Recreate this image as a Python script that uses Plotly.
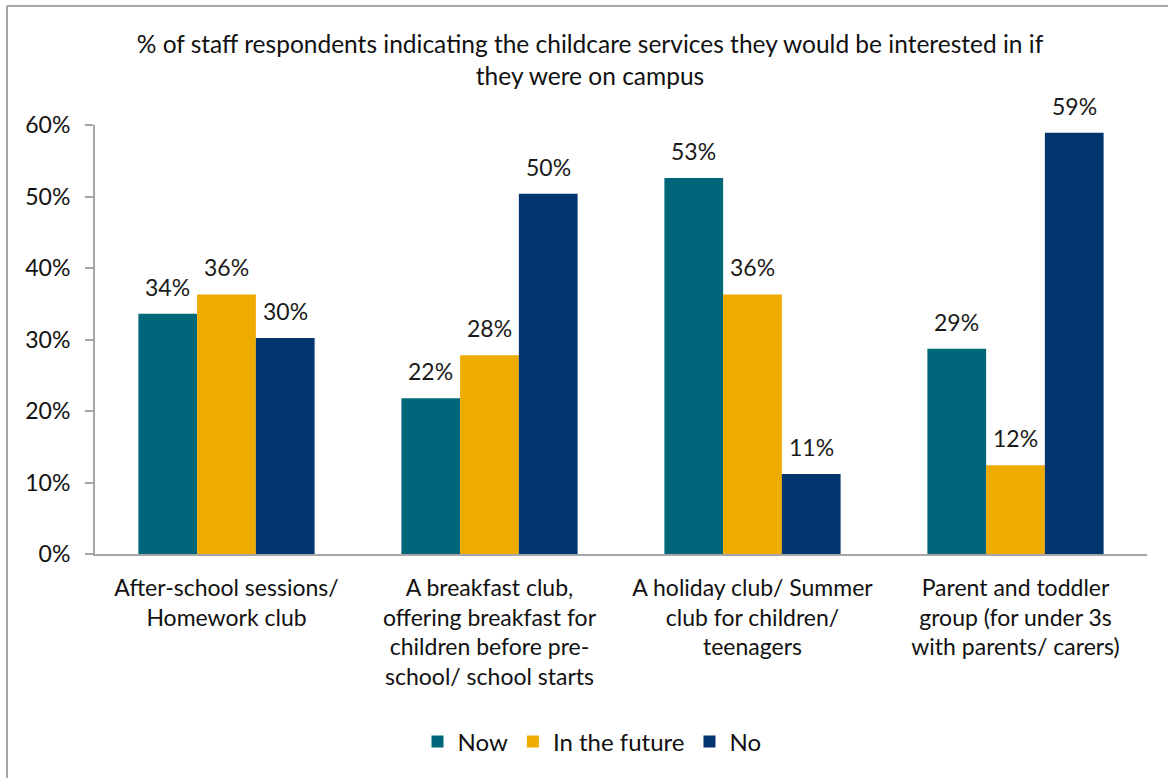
import plotly.graph_objects as go

categories = [
    "After-school sessions/<br>Homework club",
    "A breakfast club,<br>offering breakfast for<br>children before pre-<br>school/ school starts",
    "A holiday club/ Summer<br>club for children/<br>teenagers",
    "Parent and toddler<br>group (for under 3s<br>with parents/ carers)",
]
now_vals = [33.6, 21.8, 52.6, 28.7]
future_vals = [36.3, 27.8, 36.3, 12.4]
no_vals = [30.2, 50.4, 11.2, 58.9]
series_names = ["Now", "In the future", "No"]
colors = ["#00677A", "#EEAB00", "#003570"]
y_ticks = [0, 10, 20, 30, 40, 50, 60]
y_tick_labels = ["0%", "10%", "20%", "30%", "40%", "50%", "60%"]

FONT = "Lato"
W, H = 1168, 778
L, R, T, B = 95, 21, 125, 224
pw, ph = W - L - R, H - T - B
BARGAP = 0.33
bar_px = pw / len(categories) * (1 - BARGAP) / 3

fig = go.Figure()
annotations = []
all_vals = [now_vals, future_vals, no_vals]
for i, (name, vals, col) in enumerate(zip(series_names, all_vals, colors)):
    fig.add_trace(go.Bar(
        x=categories, y=vals, name=name, marker=dict(color=col, line=dict(width=0)),
    ))
    for c, v in zip(categories, vals):
        annotations.append(dict(
            x=c, y=v, xref="x", yref="y", text=f"{v:.0f}%", showarrow=False,
            xanchor="center", yanchor="bottom", xshift=(i - 1) * bar_px, yshift=11,
            font=dict(family=FONT, size=23, color="#1a1a1a"),
        ))

def px_x(x):
    return (x - L) / pw

def px_y(y):
    return (H - B - y) / ph

fig.update_layout(
    width=W, height=H,
    margin=dict(l=L, r=R, t=T, b=B),
    paper_bgcolor="white", plot_bgcolor="white",
    barmode="group", bargap=BARGAP, bargroupgap=0,
    font=dict(family=FONT, size=23, color="#111111"),
    title=dict(
        text="% of staff respondents indicating the childcare services they would be interested in if<br>they were on campus",
        x=590 / W, xanchor="center", y=1 - 53 / H, yanchor="middle",
        font=dict(family=FONT, size=24.5, color="#111111"),
    ),
    showlegend=True,
    legend=dict(
        orientation="h", x=px_x(592), xanchor="center", y=px_y(742), yanchor="middle",
        font=dict(family=FONT, size=24), traceorder="normal",
    ),
    xaxis=dict(
        showline=True, linecolor="#a6a6a6", linewidth=2, ticks="", showgrid=False,
        ticklabelstandoff=12,
        tickfont=dict(family=FONT, size=23, color="#111111"),
    ),
    yaxis=dict(
        range=[0, 60], tickvals=y_ticks, ticktext=y_tick_labels, showgrid=False,
        showline=True, linecolor="#a6a6a6", linewidth=2, ticks="outside", ticklen=8,
        tickcolor="#a6a6a6", tickwidth=2, zeroline=False, ticklabelstandoff=10,
        tickfont=dict(family=FONT, size=23, color="#111111"),
    ),
    annotations=annotations,
    shapes=[
        dict(type="line", xref="paper", yref="paper", x0=px_x(7), x1=px_x(W + 5),
             y0=px_y(6), y1=px_y(6), line=dict(color="#a6a6a6", width=2)),
        dict(type="line", xref="paper", yref="paper", x0=px_x(7), x1=px_x(7),
             y0=px_y(6), y1=px_y(H + 5), line=dict(color="#a6a6a6", width=2)),
    ],
)

fig.write_html(
    "out.html",
    config={"displayModeBar": False},
    post_script="document.body.style.margin='0';document.body.style.overflow='hidden';",
)
